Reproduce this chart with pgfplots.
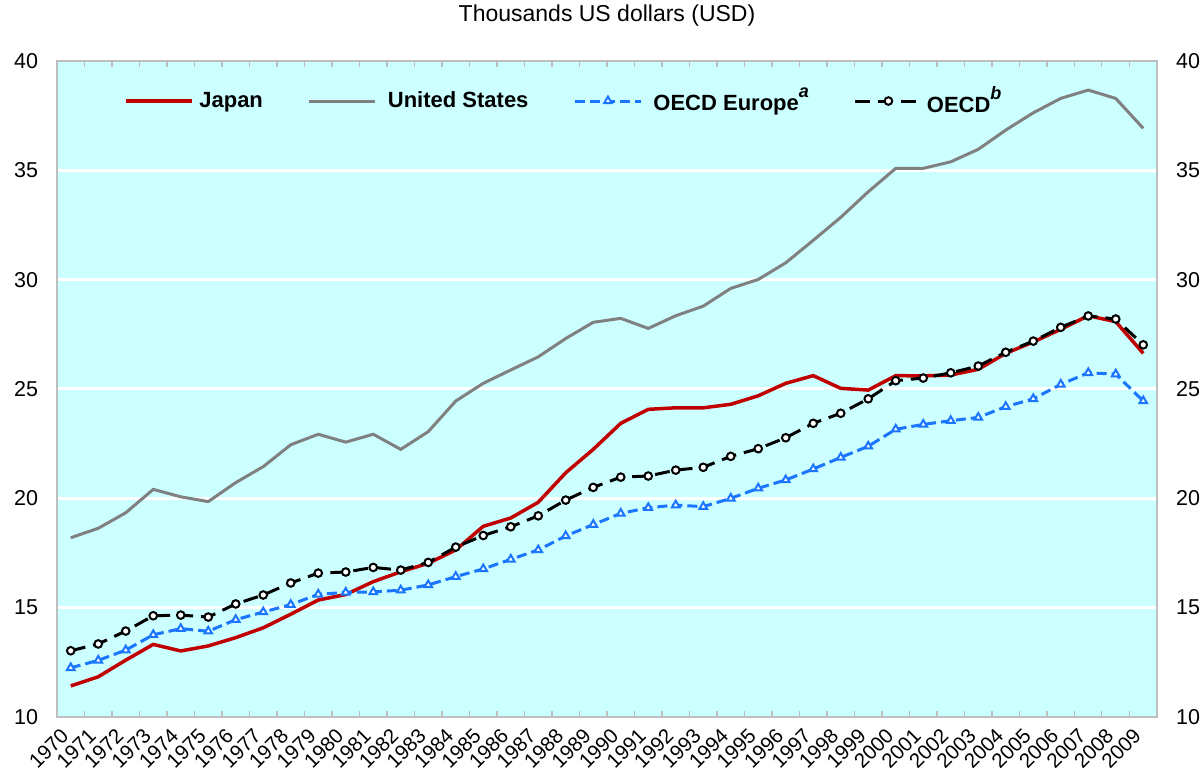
\documentclass[border=0pt]{standalone}
\usepackage{fontspec}
\setmainfont{Liberation Sans}
\usepackage{pgfplots}
\usepackage{pgfplotstable}
\pgfplotsset{compat=1.18}

\definecolor{bgcyan}{HTML}{CCFFFF}
\definecolor{jpred}{HTML}{C00000}
\definecolor{usgray}{HTML}{808080}
\definecolor{eublue}{HTML}{1A75FF}
\definecolor{framegray}{HTML}{BEBEBE}

\newcommand{\note}[1]{\raisebox{6.5bp}{\fontsize{9bp}{9bp}\selectfont\textit{#1}}}

% GDP per capita, thousands USD
\pgfplotstableread{
year japan us europe oecd
1970 11.42 18.20 12.25 13.03
1971 11.84 18.63 12.59 13.34
1972 12.60 19.34 13.06 13.93
1973 13.32 20.41 13.76 14.63
1974 13.02 20.07 14.04 14.66
1975 13.25 19.85 13.92 14.57
1976 13.63 20.72 14.45 15.17
1977 14.08 21.45 14.80 15.58
1978 14.70 22.45 15.14 16.13
1979 15.35 22.93 15.61 16.58
1980 15.60 22.57 15.70 16.63
1981 16.19 22.93 15.72 16.84
1982 16.64 22.24 15.80 16.72
1983 17.03 23.05 16.04 17.07
1984 17.64 24.45 16.42 17.77
1985 18.72 25.26 16.77 18.30
1986 19.10 25.87 17.21 18.70
1987 19.82 26.47 17.64 19.20
1988 21.17 27.31 18.28 19.92
1989 22.24 28.05 18.80 20.50
1990 23.43 28.23 19.31 20.97
1991 24.07 27.77 19.57 21.02
1992 24.14 28.35 19.69 21.29
1993 24.14 28.79 19.62 21.42
1994 24.30 29.60 20.00 21.92
1995 24.69 30.01 20.46 22.27
1996 25.26 30.77 20.84 22.77
1997 25.61 31.80 21.34 23.43
1998 25.03 32.85 21.87 23.89
1999 24.95 34.02 22.38 24.55
2000 25.61 35.09 23.16 25.38
2001 25.60 35.09 23.38 25.50
2002 25.64 35.39 23.55 25.74
2003 25.90 35.96 23.70 26.05
2004 26.63 36.84 24.19 26.68
2005 27.15 37.63 24.55 27.19
2006 27.73 38.29 25.21 27.82
2007 28.35 38.67 25.74 28.34
2008 28.08 38.29 25.68 28.20
2009 26.63 36.92 24.45 27.02
}\gdpdata

\begin{document}
\begin{tikzpicture}
\path[use as bounding box] (-28.5bp,-27bp) rectangle (573bp,358.5bp);
\begin{axis}[
    scale only axis,
    width=550bp,
    height=328bp,
    xmin=1969.5, xmax=2009.5,
    ymin=10, ymax=40,
    ytick={10,15,...,40},
    xtick={1970,1971,...,2009},
    minor xtick={1970.5,1971.5,...,2008.5},
    major tick length=0pt,
    minor tick length=3bp,
    tick align=inside,
    minor tick style={draw=framegray, line width=0.6bp},
    axis background/.style={fill=bgcyan},
    ymajorgrids,
    major grid style={draw=white, line width=1.5bp},
    axis line style={draw=framegray, line width=1bp},
    /pgf/number format/assume math mode=true,
    /pgf/number format/1000 sep={},
    tick label style={font=\fontsize{10.75bp}{12bp}\selectfont},
    yticklabel style={xshift=-6bp},
    xticklabel style={font=\fontsize{10.25bp}{11bp}\selectfont, xshift=-0.5bp, yshift=-5bp, rotate=45, anchor=east},
    title={Thousands US dollars (USD)},
    title style={at={(0.5,1)}, anchor=base, yshift=14bp, font=\fontsize{11.5bp}{13bp}\selectfont},
    legend columns=4,
    legend cell align=left,
    legend style={at={(0.055,0.939)}, anchor=west, draw=none, fill=none,
        font=\bfseries\fontsize{11bp}{12bp}\selectfont,
        /tikz/every even column/.append style={column sep=20.5bp}},
    legend image code/.code={\draw[mark repeat=2,mark phase=2,#1] plot coordinates {(0bp,0bp) (16.5bp,0bp) (33bp,0bp)};},
]
\addplot[jpred, line width=1.75bp, no markers] table[x=year, y=japan] {\gdpdata};
\addlegendentry{\hspace{1bp}Japan}
\addplot[usgray, line width=1.5bp, no markers] table[x=year, y=us] {\gdpdata};
\addlegendentry{\hspace{3.5bp}United States}
\addplot[eublue, line width=1.5bp, dash pattern=on 5bp off 2.5bp, mark=triangle*,
    mark size=2.2bp, mark options={solid, fill=white, draw=eublue, line width=1bp}]
    table[x=year, y=europe] {\gdpdata};
\addlegendentry{\hspace{3.5bp}OECD Europe\note{a}}
\addplot[black, line width=1.5bp, dash pattern=on 7.5bp off 4bp, mark=*,
    mark size=1.9bp, mark options={solid, fill=white, draw=black, line width=1bp}]
    table[x=year, y=oecd] {\gdpdata};
\addlegendentry{OECD\note{b}}
\end{axis}
\begin{axis}[
    scale only axis,
    width=550bp,
    height=328bp,
    xmin=1969.5, xmax=2009.5,
    ymin=10, ymax=40,
    ytick={10,15,...,40},
    axis x line=none,
    axis y line*=right,
    y axis line style={draw=none},
    major tick length=0pt,
    /pgf/number format/assume math mode=true,
    tick label style={font=\fontsize{10.75bp}{12bp}\selectfont},
    yticklabel style={xshift=6bp},
]
\end{axis}
\end{tikzpicture}
\end{document}
